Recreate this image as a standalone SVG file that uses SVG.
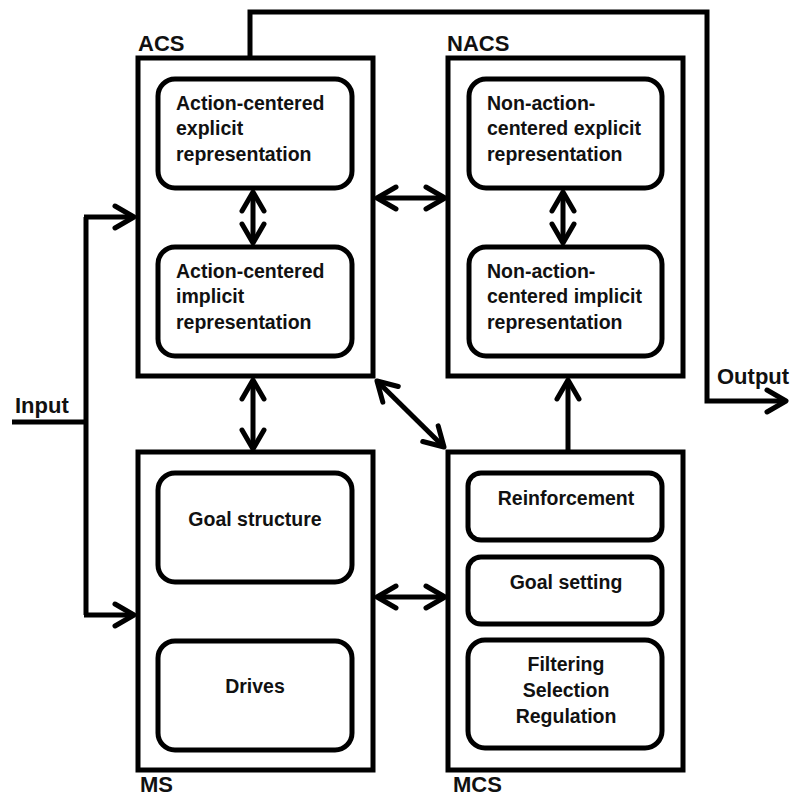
<svg xmlns="http://www.w3.org/2000/svg" width="792" height="797" viewBox="0 0 792 797">
<style>
.outer{fill:none;stroke:#000;stroke-width:5}
.inner{fill:none;stroke:#000;stroke-width:5}
.t{font-family:"Liberation Sans",Arial,sans-serif;font-weight:bold;font-size:19.5px;fill:#111}
.lbl{font-family:"Liberation Sans",Arial,sans-serif;font-weight:bold;font-size:22px;fill:#111}
.c{text-anchor:middle}
.ln{fill:none;stroke:#000;stroke-width:5}
</style>
<defs>
<marker id="ah" markerUnits="userSpaceOnUse" markerWidth="30" markerHeight="30" viewBox="-25 -15 30 30" refX="0" refY="0" orient="auto-start-reverse">
<path d="M-19,-11 L0,0 L-19,11" fill="none" stroke="#000" stroke-width="5" stroke-linecap="round" stroke-linejoin="round"/>
</marker>
</defs>
<rect width="792" height="797" fill="#fff"/>

<g id="ACS">
<rect class="outer" x="138" y="58" width="235" height="318"/>
<text class="lbl" x="138" y="51">ACS</text>
<rect class="inner" x="158" y="79" width="194" height="109" rx="17"/>
<text class="t" x="176" y="109.5">Action-centered</text>
<text class="t" x="176" y="135">explicit</text>
<text class="t" x="176" y="160.5">representation</text>
<rect class="inner" x="158" y="247" width="194" height="109" rx="17"/>
<text class="t" x="176" y="277.5">Action-centered</text>
<text class="t" x="176" y="303">implicit</text>
<text class="t" x="176" y="328.5">representation</text>
</g>

<g id="NACS">
<rect class="outer" x="448" y="58" width="235" height="318"/>
<text class="lbl" x="447" y="51">NACS</text>
<rect class="inner" x="469" y="79" width="193" height="109" rx="17"/>
<text class="t" x="487" y="109.5">Non-action-</text>
<text class="t" x="487" y="135">centered explicit</text>
<text class="t" x="487" y="160.5">representation</text>
<rect class="inner" x="469" y="247" width="193" height="109" rx="17"/>
<text class="t" x="487" y="277.5">Non-action-</text>
<text class="t" x="487" y="303">centered implicit</text>
<text class="t" x="487" y="328.5">representation</text>
</g>

<g id="MS">
<rect class="outer" x="138" y="452" width="235" height="318"/>
<text class="lbl" x="140" y="792">MS</text>
<rect class="inner" x="158" y="473" width="194" height="109" rx="17"/>
<text class="t c" x="255" y="526">Goal structure</text>
<rect class="inner" x="158" y="641" width="194" height="109" rx="17"/>
<text class="t c" x="255" y="693">Drives</text>
</g>

<g id="MCS">
<rect class="outer" x="448" y="452" width="235" height="318"/>
<text class="lbl" x="453" y="792">MCS</text>
<rect class="inner" x="468" y="473" width="194" height="67" rx="13"/>
<text class="t c" x="566" y="505">Reinforcement</text>
<rect class="inner" x="468" y="557" width="194" height="67" rx="13"/>
<text class="t c" x="566" y="589">Goal setting</text>
<rect class="inner" x="468" y="640" width="194" height="108" rx="17"/>
<text class="t c" x="566" y="671">Filtering</text>
<text class="t c" x="566" y="697">Selection</text>
<text class="t c" x="566" y="723">Regulation</text>
</g>

<g id="io-labels">
<text class="lbl" x="15" y="413">Input</text>
<text class="lbl" x="717" y="384">Output</text>
</g>

<g id="connectors">
<path class="ln" d="M253,192 L253,243" marker-start="url(#ah)" marker-end="url(#ah)"/>
<path class="ln" d="M563,192 L563,243" marker-start="url(#ah)" marker-end="url(#ah)"/>
<path class="ln" d="M377,198 L445,198" marker-start="url(#ah)" marker-end="url(#ah)"/>
<path class="ln" d="M253,380 L253,449" marker-start="url(#ah)" marker-end="url(#ah)"/>
<path class="ln" d="M377,381 L444,447" marker-start="url(#ah)" marker-end="url(#ah)"/>
<path class="ln" d="M377,597 L445,597" marker-start="url(#ah)" marker-end="url(#ah)"/>
<path class="ln" d="M568,452 L568,380" marker-end="url(#ah)"/>
<path class="ln" d="M12,422 L86,422"/>
<path class="ln" d="M86,217 L86,615"/>
<path class="ln" d="M84,217 L134,217" marker-end="url(#ah)"/>
<path class="ln" d="M84,615 L134,615" marker-end="url(#ah)"/>
<path class="ln" d="M250,58 L250,12 L707,12 L707,401 L786,401" marker-end="url(#ah)"/>
</g>
</svg>
